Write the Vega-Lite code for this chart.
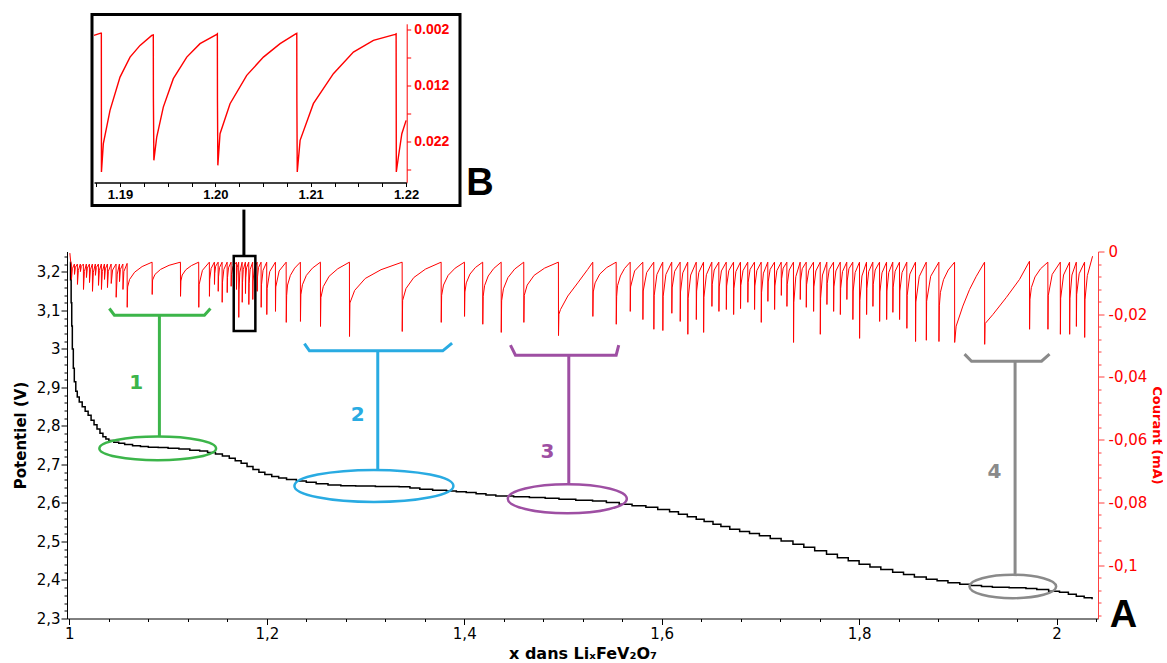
{
"$schema": "https://vega.github.io/schema/vega-lite/v6.json",
"padding": {"left": 13, "top": 12.5, "right": 0, "bottom": 0},
"background": "white",
"config": {
  "view": {"stroke": null},
  "font": "DejaVu Sans",
  "axis": {"grid": false, "labelFont": "DejaVu Sans", "titleFont": "DejaVu Sans", "labelOverlap": false, "labelFlush": false, "labelBound": false}
},
"datasets": {
  "potentiel": [
    {"x":1.0005,"y":3.225},{"x":1.0012,"y":3.18},{"x":1.0018,"y":3.12},{"x":1.0024,"y":3.06},{"x":1.003,"y":3.0},{"x":1.004,"y":2.95},{"x":1.005,"y":2.915},{"x":1.0065,"y":2.89},{"x":1.008,"y":2.875},{"x":1.01,"y":2.862},{"x":1.013,"y":2.85},{"x":1.016,"y":2.838},{"x":1.019,"y":2.828},{"x":1.022,"y":2.815},{"x":1.025,"y":2.803},{"x":1.028,"y":2.792},{"x":1.031,"y":2.781},{"x":1.034,"y":2.772},{"x":1.037,"y":2.766},{"x":1.04,"y":2.762},{"x":1.045,"y":2.758},{"x":1.05,"y":2.755},{"x":1.056,"y":2.752},{"x":1.064,"y":2.749},{"x":1.072,"y":2.747},{"x":1.08,"y":2.745},{"x":1.09,"y":2.744},{"x":1.1,"y":2.742},{"x":1.111,"y":2.74},{"x":1.122,"y":2.737},{"x":1.132,"y":2.735},{"x":1.14,"y":2.731},{"x":1.148,"y":2.727},{"x":1.155,"y":2.722},{"x":1.162,"y":2.716},{"x":1.168,"y":2.71},{"x":1.174,"y":2.703},{"x":1.18,"y":2.695},{"x":1.186,"y":2.687},{"x":1.192,"y":2.68},{"x":1.198,"y":2.674},{"x":1.205,"y":2.669},{"x":1.212,"y":2.665},{"x":1.22,"y":2.661},{"x":1.23,"y":2.657},{"x":1.24,"y":2.654},{"x":1.25,"y":2.65},{"x":1.262,"y":2.647},{"x":1.275,"y":2.645},{"x":1.29,"y":2.644},{"x":1.31,"y":2.643},{"x":1.334,"y":2.642},{"x":1.345,"y":2.639},{"x":1.355,"y":2.636},{"x":1.368,"y":2.633},{"x":1.382,"y":2.631},{"x":1.392,"y":2.629},{"x":1.402,"y":2.627},{"x":1.412,"y":2.624},{"x":1.422,"y":2.621},{"x":1.432,"y":2.618},{"x":1.45,"y":2.616},{"x":1.466,"y":2.614},{"x":1.482,"y":2.612},{"x":1.496,"y":2.61},{"x":1.513,"y":2.607},{"x":1.53,"y":2.605},{"x":1.544,"y":2.601},{"x":1.557,"y":2.597},{"x":1.57,"y":2.593},{"x":1.584,"y":2.589},{"x":1.596,"y":2.583},{"x":1.608,"y":2.577},{"x":1.617,"y":2.571},{"x":1.626,"y":2.564},{"x":1.635,"y":2.558},{"x":1.643,"y":2.552},{"x":1.652,"y":2.545},{"x":1.66,"y":2.539},{"x":1.669,"y":2.532},{"x":1.679,"y":2.526},{"x":1.689,"y":2.521},{"x":1.699,"y":2.515},{"x":1.71,"y":2.508},{"x":1.721,"y":2.501},{"x":1.733,"y":2.493},{"x":1.744,"y":2.485},{"x":1.755,"y":2.476},{"x":1.767,"y":2.467},{"x":1.778,"y":2.458},{"x":1.789,"y":2.45},{"x":1.8,"y":2.441},{"x":1.811,"y":2.434},{"x":1.822,"y":2.427},{"x":1.834,"y":2.42},{"x":1.845,"y":2.414},{"x":1.856,"y":2.408},{"x":1.868,"y":2.402},{"x":1.879,"y":2.398},{"x":1.89,"y":2.393},{"x":1.902,"y":2.389},{"x":1.913,"y":2.386},{"x":1.924,"y":2.383},{"x":1.935,"y":2.381},{"x":1.952,"y":2.38},{"x":1.969,"y":2.378},{"x":1.98,"y":2.375},{"x":1.992,"y":2.371},{"x":2.003,"y":2.368},{"x":2.012,"y":2.363},{"x":2.02,"y":2.358},{"x":2.028,"y":2.354},{"x":2.036,"y":2.35}
  ],
  "courant": [
    {"x":1.0005,"c":-0.0005},{"x":1.0013,"c":-0.0032},{"x":1.002,"c":-0.004},{"x":1.0021,"c":-0.0089},{"x":1.003,"c":-0.0055},{"x":1.0051,"c":-0.004},{"x":1.0052,"c":-0.0073},{"x":1.0061,"c":-0.005},{"x":1.0081,"c":-0.004},{"x":1.0082,"c":-0.0105},{"x":1.0091,"c":-0.006},{"x":1.0111,"c":-0.004},{"x":1.0112,"c":-0.0064},{"x":1.0121,"c":-0.0047},{"x":1.0142,"c":-0.004},{"x":1.0143,"c":-0.0121},{"x":1.0152,"c":-0.0064},{"x":1.0172,"c":-0.004},{"x":1.0173,"c":-0.0083},{"x":1.0182,"c":-0.0053},{"x":1.0203,"c":-0.004},{"x":1.0204,"c":-0.0099},{"x":1.0213,"c":-0.0058},{"x":1.0233,"c":-0.004},{"x":1.0234,"c":-0.0127},{"x":1.0243,"c":-0.0066},{"x":1.0263,"c":-0.004},{"x":1.0264,"c":-0.0076},{"x":1.0273,"c":-0.0051},{"x":1.0294,"c":-0.004},{"x":1.0295,"c":-0.0108},{"x":1.0304,"c":-0.006},{"x":1.0324,"c":-0.004},{"x":1.0325,"c":-0.0121},{"x":1.0334,"c":-0.0064},{"x":1.0355,"c":-0.004},{"x":1.0356,"c":-0.0089},{"x":1.0365,"c":-0.0055},{"x":1.0385,"c":-0.004},{"x":1.0386,"c":-0.0115},{"x":1.0395,"c":-0.0063},{"x":1.0423,"c":-0.004},{"x":1.0424,"c":-0.0102},{"x":1.0438,"c":-0.0059},{"x":1.0473,"c":-0.004},{"x":1.0474,"c":-0.0146},{"x":1.0485,"c":-0.0072},{"x":1.0507,"c":-0.004},{"x":1.0508,"c":-0.0096},{"x":1.0517,"c":-0.0057},{"x":1.0542,"c":-0.004},{"x":1.0543,"c":-0.0121},{"x":1.0552,"c":-0.0064},{"x":1.0585,"c":-0.0038},
    {"x":1.0586,"c":-0.0178},{"x":1.059,"c":-0.0113},{"x":1.061,"c":-0.0089},{"x":1.0661,"c":-0.0066},{"x":1.0737,"c":-0.0048},
    {"x":1.0838,"c":-0.0034},{"x":1.0839,"c":-0.0137},{"x":1.0843,"c":-0.0091},{"x":1.0867,"c":-0.0073},{"x":1.0924,"c":-0.0057},{"x":1.101,"c":-0.0044},
    {"x":1.1125,"c":-0.0034},{"x":1.1126,"c":-0.0143},{"x":1.113,"c":-0.0094},{"x":1.1143,"c":-0.0075},{"x":1.118,"c":-0.0058},{"x":1.1236,"c":-0.0045},
    {"x":1.131,"c":-0.0034},{"x":1.1311,"c":-0.0178},{"x":1.1314,"c":-0.0106},{"x":1.1348,"c":-0.006},
    {"x":1.1418,"c":-0.0034},{"x":1.1419,"c":-0.0143},{"x":1.1422,"c":-0.0089},{"x":1.1436,"c":-0.0054},
    {"x":1.1469,"c":-0.0034},{"x":1.147,"c":-0.0105},{"x":1.1473,"c":-0.007},{"x":1.1482,"c":-0.0047},
    {"x":1.1507,"c":-0.0034},{"x":1.1508,"c":-0.0127},{"x":1.1511,"c":-0.0081},{"x":1.1521,"c":-0.0051},
    {"x":1.1547,"c":-0.0034},{"x":1.1548,"c":-0.0162},{"x":1.1551,"c":-0.0098},{"x":1.1565,"c":-0.0057},
    {"x":1.1598,"c":-0.0034},{"x":1.1599,"c":-0.0131},{"x":1.1602,"c":-0.0083},{"x":1.1612,"c":-0.0052},
    {"x":1.1638,"c":-0.0034},{"x":1.1639,"c":-0.0111},{"x":1.1642,"c":-0.0073},{"x":1.1657,"c":-0.0048},
    {"x":1.1692,"c":-0.0034},{"x":1.1693,"c":-0.0121},{"x":1.1696,"c":-0.0078},{"x":1.17,"c":-0.005},
    {"x":1.1715,"c":-0.0034},{"x":1.1716,"c":-0.021},{"x":1.1719,"c":-0.0122},{"x":1.1727,"c":-0.0066},
    {"x":1.175,"c":-0.0034},{"x":1.1751,"c":-0.0162},{"x":1.1754,"c":-0.0098},{"x":1.1762,"c":-0.0057},
    {"x":1.1783,"c":-0.0034},{"x":1.1784,"c":-0.0134},{"x":1.1787,"c":-0.0084},{"x":1.1795,"c":-0.0052},
    {"x":1.1817,"c":-0.0034},{"x":1.1818,"c":-0.0169},{"x":1.1821,"c":-0.0102},{"x":1.1831,"c":-0.0058},
    {"x":1.1857,"c":-0.0034},{"x":1.1858,"c":-0.0153},{"x":1.1861,"c":-0.0094},{"x":1.1873,"c":-0.0055},
    {"x":1.1902,"c":-0.0034},{"x":1.1903,"c":-0.0127},{"x":1.1906,"c":-0.0081},{"x":1.1916,"c":-0.0051},
    {"x":1.1942,"c":-0.0034},{"x":1.1943,"c":-0.0178},{"x":1.1946,"c":-0.0106},{"x":1.1962,"c":-0.006},
    {"x":1.1999,"c":-0.0034},{"x":1.2,"c":-0.0201},{"x":1.2003,"c":-0.0118},{"x":1.203,"c":-0.0064},
    {"x":1.2087,"c":-0.0034},{"x":1.2088,"c":-0.0191},{"x":1.2091,"c":-0.0113},{"x":1.2125,"c":-0.0062},
    {"x":1.2196,"c":-0.0034},{"x":1.2197,"c":-0.0226},{"x":1.2201,"c":-0.014},{"x":1.221,"c":-0.0107},{"x":1.2239,"c":-0.0076},{"x":1.2282,"c":-0.0053},
    {"x":1.234,"c":-0.0034},{"x":1.2341,"c":-0.0223},{"x":1.2345,"c":-0.0138},{"x":1.2361,"c":-0.0106},{"x":1.2401,"c":-0.0076},{"x":1.2462,"c":-0.0053},
    {"x":1.2543,"c":-0.0034},{"x":1.2544,"c":-0.0239},{"x":1.2548,"c":-0.0147},{"x":1.2572,"c":-0.0112},{"x":1.2631,"c":-0.0079},{"x":1.2719,"c":-0.0055},
    {"x":1.2837,"c":-0.0034},{"x":1.2838,"c":-0.0271},{"x":1.2842,"c":-0.0164},{"x":1.289,"c":-0.0124},{"x":1.2997,"c":-0.0086},{"x":1.3157,"c":-0.0058},
    {"x":1.3371,"c":-0.0034},{"x":1.3372,"c":-0.0255},{"x":1.3376,"c":-0.0156},{"x":1.341,"c":-0.0118},{"x":1.3489,"c":-0.0083},{"x":1.3608,"c":-0.0056},
    {"x":1.3766,"c":-0.0034},{"x":1.3767,"c":-0.0226},{"x":1.3771,"c":-0.014},{"x":1.379,"c":-0.0107},{"x":1.3837,"c":-0.0076},{"x":1.3908,"c":-0.0053},
    {"x":1.4002,"c":-0.0034},{"x":1.4003,"c":-0.0207},{"x":1.4007,"c":-0.0129},{"x":1.4021,"c":-0.01},{"x":1.4058,"c":-0.0072},{"x":1.4113,"c":-0.0051},
    {"x":1.4187,"c":-0.0034},{"x":1.4188,"c":-0.0232},{"x":1.4192,"c":-0.0143},{"x":1.4206,"c":-0.0109},{"x":1.4243,"c":-0.0078},{"x":1.4299,"c":-0.0054},
    {"x":1.4374,"c":-0.0034},{"x":1.4375,"c":-0.0258},{"x":1.4379,"c":-0.0157},{"x":1.4397,"c":-0.0119},{"x":1.4443,"c":-0.0083},{"x":1.4511,"c":-0.0056},
    {"x":1.4603,"c":-0.0034},{"x":1.4604,"c":-0.0226},{"x":1.4608,"c":-0.014},{"x":1.4638,"c":-0.0107},{"x":1.4708,"c":-0.0076},{"x":1.4814,"c":-0.0053},
    {"x":1.4954,"c":-0.0034},{"x":1.4955,"c":-0.0268},{"x":1.4959,"c":-0.02},{"x":1.4975,"c":-0.0185},{"x":1.5049,"c":-0.0142},{"x":1.515,"c":-0.01},{"x":1.5251,"c":-0.0057},
    {"x":1.5302,"c":-0.0034},{"x":1.5303,"c":-0.0207},{"x":1.5307,"c":-0.0129},{"x":1.5326,"c":-0.01},{"x":1.5373,"c":-0.0072},{"x":1.5444,"c":-0.0051},
    {"x":1.5539,"c":-0.0034},{"x":1.554,"c":-0.0232},{"x":1.5544,"c":-0.0143},{"x":1.5553,"c":-0.0109},{"x":1.5582,"c":-0.0078},{"x":1.5624,"c":-0.0054},
    {"x":1.5681,"c":-0.0034},{"x":1.5682,"c":-0.0191},{"x":1.5685,"c":-0.0113},{"x":1.5726,"c":-0.0062},
    {"x":1.5809,"c":-0.0034},{"x":1.581,"c":-0.0217},{"x":1.5813,"c":-0.0126},{"x":1.5848,"c":-0.0067},
    {"x":1.592,"c":-0.0034},{"x":1.5921,"c":-0.0248},{"x":1.5924,"c":-0.0141},{"x":1.5952,"c":-0.0073},
    {"x":1.6011,"c":-0.0034},{"x":1.6012,"c":-0.0252},{"x":1.6015,"c":-0.0143},{"x":1.6043,"c":-0.0073},
    {"x":1.6102,"c":-0.0034},{"x":1.6103,"c":-0.0197},{"x":1.6106,"c":-0.0116},{"x":1.6132,"c":-0.0063},
    {"x":1.6187,"c":-0.0034},{"x":1.6188,"c":-0.0223},{"x":1.6191,"c":-0.0129},{"x":1.6214,"c":-0.0068},
    {"x":1.6264,"c":-0.0034},{"x":1.6265,"c":-0.0264},{"x":1.6268,"c":-0.0149},{"x":1.6294,"c":-0.0075},
    {"x":1.635,"c":-0.0034},{"x":1.6351,"c":-0.0217},{"x":1.6354,"c":-0.0126},{"x":1.6376,"c":-0.0067},
    {"x":1.6424,"c":-0.0034},{"x":1.6425,"c":-0.0258},{"x":1.6428,"c":-0.0146},{"x":1.6453,"c":-0.0074},
    {"x":1.6508,"c":-0.0034},{"x":1.6509,"c":-0.0175},{"x":1.6512,"c":-0.0105},{"x":1.6532,"c":-0.0059},
    {"x":1.6579,"c":-0.0034},{"x":1.658,"c":-0.0191},{"x":1.6583,"c":-0.0113},{"x":1.6605,"c":-0.0062},
    {"x":1.6654,"c":-0.0034},{"x":1.6655,"c":-0.0185},{"x":1.6658,"c":-0.011},{"x":1.668,"c":-0.0061},
    {"x":1.6728,"c":-0.0034},{"x":1.6729,"c":-0.0201},{"x":1.6732,"c":-0.0118},{"x":1.6752,"c":-0.0064},
    {"x":1.6798,"c":-0.0034},{"x":1.6799,"c":-0.0182},{"x":1.6802,"c":-0.0108},{"x":1.6824,"c":-0.0061},
    {"x":1.6872,"c":-0.0034},{"x":1.6873,"c":-0.0162},{"x":1.6876,"c":-0.0098},{"x":1.6896,"c":-0.0057},
    {"x":1.694,"c":-0.0034},{"x":1.6941,"c":-0.0185},{"x":1.6944,"c":-0.011},{"x":1.6964,"c":-0.0061},
    {"x":1.7008,"c":-0.0034},{"x":1.7009,"c":-0.0226},{"x":1.7012,"c":-0.013},{"x":1.7031,"c":-0.0069},
    {"x":1.7075,"c":-0.0034},{"x":1.7076,"c":-0.0159},{"x":1.7079,"c":-0.0097},{"x":1.7099,"c":-0.0057},
    {"x":1.7143,"c":-0.0034},{"x":1.7144,"c":-0.0185},{"x":1.7147,"c":-0.011},{"x":1.7167,"c":-0.0061},
    {"x":1.7211,"c":-0.0034},{"x":1.7212,"c":-0.014},{"x":1.7215,"c":-0.0087},{"x":1.7231,"c":-0.0053},
    {"x":1.7268,"c":-0.0034},{"x":1.7269,"c":-0.0175},{"x":1.7272,"c":-0.0105},{"x":1.7292,"c":-0.0059},
    {"x":1.7335,"c":-0.0034},{"x":1.7336,"c":-0.029},{"x":1.7339,"c":-0.0162},{"x":1.7359,"c":-0.008},
    {"x":1.7403,"c":-0.0034},{"x":1.7404,"c":-0.0153},{"x":1.7407,"c":-0.0094},{"x":1.7424,"c":-0.0055},
    {"x":1.7464,"c":-0.0034},{"x":1.7465,"c":-0.0178},{"x":1.7468,"c":-0.0106},{"x":1.749,"c":-0.006},
    {"x":1.7538,"c":-0.0034},{"x":1.7539,"c":-0.0191},{"x":1.7542,"c":-0.0113},{"x":1.7562,"c":-0.0062},
    {"x":1.7606,"c":-0.0034},{"x":1.7607,"c":-0.0264},{"x":1.761,"c":-0.0149},{"x":1.7629,"c":-0.0075},
    {"x":1.7673,"c":-0.0034},{"x":1.7674,"c":-0.0169},{"x":1.7677,"c":-0.0102},{"x":1.7697,"c":-0.0058},
    {"x":1.7741,"c":-0.0034},{"x":1.7742,"c":-0.0191},{"x":1.7745,"c":-0.0113},{"x":1.7765,"c":-0.0062},
    {"x":1.7809,"c":-0.0034},{"x":1.781,"c":-0.0201},{"x":1.7813,"c":-0.0118},{"x":1.7832,"c":-0.0064},
    {"x":1.7875,"c":-0.0034},{"x":1.7876,"c":-0.0153},{"x":1.7879,"c":-0.0094},{"x":1.7897,"c":-0.0055},
    {"x":1.7936,"c":-0.0034},{"x":1.7937,"c":-0.0217},{"x":1.794,"c":-0.0126},{"x":1.796,"c":-0.0067},
    {"x":1.8004,"c":-0.0034},{"x":1.8005,"c":-0.0277},{"x":1.8008,"c":-0.0156},{"x":1.8029,"c":-0.0078},
    {"x":1.8075,"c":-0.0034},{"x":1.8076,"c":-0.0201},{"x":1.8079,"c":-0.0118},{"x":1.8097,"c":-0.0064},
    {"x":1.8139,"c":-0.0034},{"x":1.814,"c":-0.0175},{"x":1.8143,"c":-0.0105},{"x":1.8163,"c":-0.0059},
    {"x":1.8207,"c":-0.0034},{"x":1.8208,"c":-0.0223},{"x":1.8211,"c":-0.0129},{"x":1.8232,"c":-0.0068},
    {"x":1.8278,"c":-0.0034},{"x":1.8279,"c":-0.0217},{"x":1.8282,"c":-0.0126},{"x":1.83,"c":-0.0067},
    {"x":1.8341,"c":-0.0034},{"x":1.8342,"c":-0.0194},{"x":1.8345,"c":-0.0114},{"x":1.8365,"c":-0.0063},
    {"x":1.8409,"c":-0.0034},{"x":1.841,"c":-0.0217},{"x":1.8413,"c":-0.0126},{"x":1.8435,"c":-0.0067},
    {"x":1.8483,"c":-0.0034},{"x":1.8484,"c":-0.0245},{"x":1.8487,"c":-0.014},{"x":1.8514,"c":-0.0072},
    {"x":1.8571,"c":-0.0034},{"x":1.8572,"c":-0.0287},{"x":1.8575,"c":-0.0161},{"x":1.8609,"c":-0.008},
    {"x":1.868,"c":-0.0034},{"x":1.8681,"c":-0.0283},{"x":1.8684,"c":-0.0159},{"x":1.8725,"c":-0.0079},
    {"x":1.8808,"c":-0.0034},{"x":1.8809,"c":-0.0287},{"x":1.8813,"c":-0.0173},{"x":1.8824,"c":-0.013},{"x":1.8855,"c":-0.009},{"x":1.8903,"c":-0.0059},
    {"x":1.8967,"c":-0.0034},{"x":1.8968,"c":-0.029},{"x":1.8983,"c":-0.0238},{"x":1.9051,"c":-0.0174},{"x":1.9119,"c":-0.0121},{"x":1.9187,"c":-0.0079},
    {"x":1.9271,"c":-0.0034},{"x":1.9272,"c":-0.0296},{"x":1.9276,"c":-0.023},{"x":1.9355,"c":-0.0201},{"x":1.949,"c":-0.0147},{"x":1.9625,"c":-0.0089},
    {"x":1.9726,"c":-0.0031},{"x":1.9727,"c":-0.0248},{"x":1.9731,"c":-0.0152},{"x":1.9745,"c":-0.0115},{"x":1.9782,"c":-0.0081},{"x":1.9838,"c":-0.0055},
    {"x":1.9912,"c":-0.0034},{"x":1.9913,"c":-0.0248},{"x":1.9916,"c":-0.0141},{"x":1.9956,"c":-0.0073},
    {"x":2.0038,"c":-0.0034},{"x":2.0039,"c":-0.0264},{"x":2.0042,"c":-0.0149},{"x":2.0071,"c":-0.0075},
    {"x":2.0132,"c":-0.0034},{"x":2.0133,"c":-0.0264},{"x":2.0136,"c":-0.0149},{"x":2.0156,"c":-0.0075},
    {"x":2.02,"c":-0.0034},{"x":2.0201,"c":-0.0239},{"x":2.0204,"c":-0.0137},{"x":2.0229,"c":-0.0071},
    {"x":2.0284,"c":-0.0034},{"x":2.0285,"c":-0.0274},{"x":2.0288,"c":-0.0154},{"x":2.0312,"c":-0.0077},
    {"x":2.0365,"c":-0.0015}
  ],
  "inset": [
    {"x":1.18727,"c":0.00307},{"x":1.18797,"c":0.00266},{"x":1.18804,"c":0.00266},{"x":1.18805,"c":0.02748},{"x":1.18825,"c":0.02241},{"x":1.18895,"c":0.01646},{"x":1.19,"c":0.01052},{"x":1.19105,"c":0.00695},{"x":1.1921,"c":0.00486},{"x":1.19333,"c":0.00307},
    {"x":1.19349,"c":0.00298},{"x":1.1935,"c":0.0142},{"x":1.19355,"c":0.02539},{"x":1.19385,"c":0.02123},{"x":1.19454,"c":0.01588},{"x":1.19559,"c":0.0108},{"x":1.197,"c":0.00695},{"x":1.19839,"c":0.00455},{"x":1.20015,"c":0.00289},
    {"x":1.20021,"c":0.0028},{"x":1.20022,"c":0.01468},{"x":1.20026,"c":0.02629},{"x":1.20049,"c":0.02063},{"x":1.20154,"c":0.01527},{"x":1.20329,"c":0.01021},{"x":1.20504,"c":0.00695},{"x":1.20679,"c":0.00455},{"x":1.20847,"c":0.00277},
    {"x":1.20854,"c":0.00271},{"x":1.20855,"c":0.01468},{"x":1.20859,"c":0.02748},{"x":1.20889,"c":0.02182},{"x":1.21028,"c":0.01527},{"x":1.21238,"c":0.00991},{"x":1.21448,"c":0.00605},{"x":1.21658,"c":0.00396},{"x":1.21886,"c":0.00289},
    {"x":1.21896,"c":0.0028},{"x":1.21898,"c":0.02748},{"x":1.2192,"c":0.0248},{"x":1.21956,"c":0.02063},{"x":1.22001,"c":0.01825}
  ],
  "brackets": [
    {"g":"1","k":1,"x":1.0405,"y":3.1052},{"g":"1","k":2,"x":1.0456,"y":3.0878},{"g":"1","k":3,"x":1.1368,"y":3.0878},{"g":"1","k":4,"x":1.1429,"y":3.1052},
    {"g":"2","k":1,"x":1.2381,"y":3.0138},{"g":"2","k":2,"x":1.2432,"y":2.9951},{"g":"2","k":3,"x":1.3782,"y":2.9951},{"g":"2","k":4,"x":1.3877,"y":3.0151},
    {"g":"3","k":1,"x":1.4468,"y":3.0099},{"g":"3","k":2,"x":1.4519,"y":2.9839},{"g":"3","k":3,"x":1.5539,"y":2.9839},{"g":"3","k":4,"x":1.5565,"y":3.0099},
    {"g":"4","k":1,"x":1.9068,"y":2.9865},{"g":"4","k":2,"x":1.9139,"y":2.9683},{"g":"4","k":3,"x":1.9848,"y":2.9683},{"g":"4","k":4,"x":1.9929,"y":2.9865}
  ],
  "stems": [
    {"g":"1","x":1.0912,"y":3.0878,"y2":2.7727},{"g":"2","x":1.3124,"y":2.9951,"y2":2.686},{"g":"3","x":1.5059,"y":2.9839,"y2":2.6488},{"g":"4","x":1.958,"y":2.9683,"y2":2.4132}
  ],
  "ellipses": [
    {"g":"1","x":1.0895,"y":2.7418},{"g":"2","x":1.3085,"y":2.6444},{"g":"3","x":1.5044,"y":2.6112},{"g":"4","x":1.9557,"y":2.3831}
  ],
  "numbers": [
    {"g":"1","x":1.0676,"y":2.9112,"t":"1"},{"g":"2","x":1.2921,"y":2.8281,"t":"2"},{"g":"3","x":1.4843,"y":2.7332,"t":"3"},{"g":"4","x":1.9372,"y":2.6808,"t":"4"}
  ]
},
"spacing": 0,
"vconcat": [
  {
    "spacing": 0,
    "hconcat": [
      {"width": 21.5, "height": 10, "data": {"values": []}, "mark": "text"},
      {
        "width": 368, "height": 191,
        "view": {"stroke": "black", "strokeWidth": 3},
        "resolve": {"scale": {"x": "independent", "y": "independent"}},
        "layer": [
          {
            "data": {"name": "inset"},
            "mark": {"type": "line", "color": "#ff0000", "strokeWidth": 1.4},
            "encoding": {
              "x": {"field": "x", "type": "quantitative",
                "scale": {"domain": [1.18727, 1.22007], "range": [2, 314.7], "nice": false, "zero": false},
                "axis": {"title": null, "offset": -23, "labelOverlap": false, "values": [1.1875,1.19,1.1925,1.195,1.1975,1.2,1.2025,1.205,1.2075,1.21,1.2125,1.215,1.2175,1.22],
                  "labelExpr": "abs(datum.value*100 - round(datum.value*100)) < 0.001 ? format(datum.value, '.2f') : ''",
                  "tickSize": 4, "tickColor": "black", "domainColor": "black", "domainWidth": 1.5, "labelColor": "black", "labelFont": "Liberation Sans", "labelFontSize": 13, "labelFontWeight": "bold", "labelPadding": 2}},
              "y": {"field": "c", "type": "quantitative",
                "scale": {"domain": [0.001, 0.0293], "range": [9.3, 167.7], "nice": false, "zero": false},
                "axis": {"title": null, "orient": "right", "offset": -53.3, "labelOverlap": false, "values": [0.002,0.007,0.012,0.017,0.022,0.027],
                  "labelExpr": "abs((datum.value-0.002)*100 - round((datum.value-0.002)*100)) < 0.001 ? format(datum.value, '.3f') : ''",
                  "tickSize": 4, "tickColor": "#ff0000", "domainColor": "#ff0000", "labelColor": "#ff0000", "labelFont": "Liberation Sans", "labelFontSize": 14, "labelFontWeight": "bold", "labelPadding": 3}}
            }
          },
          {
            "data": {"values": [{"x": 1.22776, "c": 0.02962, "t": "B"}]},
            "mark": {"type": "text", "fontSize": 38, "fontWeight": "bold", "font": "Liberation Sans", "align": "center", "baseline": "middle", "color": "black"},
            "encoding": {
              "x": {"field": "x", "type": "quantitative", "scale": {"domain": [1.18727, 1.22007], "range": [2, 314.7], "nice": false, "zero": false}, "axis": null},
              "y": {"field": "c", "type": "quantitative", "scale": {"domain": [0.001, 0.0293], "range": [9.3, 167.7], "nice": false, "zero": false}, "axis": null},
              "text": {"field": "t"}
            }
          }
        ]
      }
    ]
  },
  {
    "width": 1031, "height": 367,
    "resolve": {"scale": {"x": "independent", "y": "independent", "color": "independent"}},
    "layer": [
      {
        "data": {"name": "potentiel"},
        "mark": {"type": "line", "interpolate": "step-after", "color": "black", "strokeWidth": 1.5},
        "encoding": {
          "x": {"field": "x", "type": "quantitative", "scale": {"domain": [0.9976, 2.042], "nice": false, "zero": false},
            "axis": {"title": "x dans LiₓFeV₂O₇", "labelOverlap": false, "values": [1,1.04,1.08,1.12,1.16,1.2,1.24,1.28,1.32,1.36,1.4,1.44,1.48,1.52,1.56,1.6,1.64,1.68,1.72,1.76,1.8,1.84,1.88,1.92,1.96,2,2.04],
              "labelExpr": "abs(datum.value*5 - round(datum.value*5)) < 0.001 ? replace(format(datum.value, '~g'), '.', ',') : ''",
              "tickSize": {"condition": {"test": "abs(datum.value*5 - round(datum.value*5)) < 0.001", "value": 6}, "value": 3},
              "tickColor": "black", "domainColor": "black", "labelColor": "black", "labelFontSize": 15, "labelPadding": 2,
              "titleFontSize": 16, "titleFontWeight": "bold", "titleColor": "black", "titlePadding": 4}},
          "y": {"field": "y", "type": "quantitative", "scale": {"domain": [2.3, 3.2532], "nice": false, "zero": false},
            "axis": {"title": "Potentiel (V)", "labelOverlap": false, "values": [2.3,2.32,2.34,2.36,2.38,2.4,2.42,2.44,2.46,2.48,2.5,2.52,2.54,2.56,2.58,2.6,2.62,2.64,2.66,2.68,2.7,2.72,2.74,2.76,2.78,2.8,2.82,2.84,2.86,2.88,2.9,2.92,2.94,2.96,2.98,3,3.02,3.04,3.06,3.08,3.1,3.12,3.14,3.16,3.18,3.2,3.22,3.24],
              "labelExpr": "abs(datum.value*10 - round(datum.value*10)) < 0.001 ? replace(format(datum.value, '~g'), '.', ',') : ''",
              "tickSize": {"condition": {"test": "abs(datum.value*10 - round(datum.value*10)) < 0.001", "value": 6}, "value": 3},
              "tickColor": "black", "domainColor": "black", "labelColor": "black", "labelFontSize": 15, "labelPadding": 1,
              "titleFontSize": 15, "titleFontWeight": "bold", "titleColor": "black", "titlePadding": 8}}
        }
      },
      {
        "data": {"name": "courant"},
        "mark": {"type": "line", "color": "#ff0000", "strokeWidth": 1},
        "encoding": {
          "x": {"field": "x", "type": "quantitative", "scale": {"domain": [0.9976, 2.042], "nice": false, "zero": false}, "axis": null},
          "y": {"field": "c", "type": "quantitative", "scale": {"domain": [-0.117, 0], "nice": false, "zero": false},
            "axis": {"title": "Courant (mA)", "orient": "right", "labelOverlap": false, "values": [0,-0.004,-0.008,-0.012,-0.016,-0.02,-0.024,-0.028,-0.032,-0.036,-0.04,-0.044,-0.048,-0.052,-0.056,-0.06,-0.064,-0.068,-0.072,-0.076,-0.08,-0.084,-0.088,-0.092,-0.096,-0.1,-0.104,-0.108,-0.112,-0.116],
              "labelExpr": "abs(datum.value*50 - round(datum.value*50)) < 0.001 ? (datum.value < 0 ? '-' : '') + replace(format(abs(datum.value), '~g'), '.', ',') : ''",
              "tickSize": {"condition": {"test": "abs(datum.value*50 - round(datum.value*50)) < 0.001", "value": 6}, "value": 3},
              "tickColor": "#ff4040", "domainColor": "#ff4040", "labelColor": "#ff0000", "labelFontSize": 15, "labelPadding": 4,
              "titleFontSize": 13, "titleFontWeight": "bold", "titleColor": "#ff0000", "titlePadding": 3}}
        }
      },
      {
        "data": {"name": "brackets"},
        "mark": {"type": "line", "strokeWidth": 3},
        "encoding": {
          "x": {"field": "x", "type": "quantitative", "scale": {"domain": [0.9976, 2.042], "nice": false, "zero": false}, "axis": null},
          "y": {"field": "y", "type": "quantitative", "scale": {"domain": [2.3, 3.2532], "nice": false, "zero": false}, "axis": null},
          "color": {"field": "g", "type": "nominal", "scale": {"domain": ["1","2","3","4"], "range": ["#3cb54a","#29abe2","#9e4fa3","#8a8a8a"]}, "legend": null},
          "order": {"field": "k", "type": "quantitative"}
        }
      },
      {
        "data": {"name": "stems"},
        "mark": {"type": "rule", "strokeWidth": 3},
        "encoding": {
          "x": {"field": "x", "type": "quantitative", "scale": {"domain": [0.9976, 2.042], "nice": false, "zero": false}, "axis": null},
          "y": {"field": "y", "type": "quantitative", "scale": {"domain": [2.3, 3.2532], "nice": false, "zero": false}, "axis": null},
          "y2": {"field": "y2"},
          "color": {"field": "g", "type": "nominal", "scale": {"domain": ["1","2","3","4"], "range": ["#3cb54a","#29abe2","#9e4fa3","#8a8a8a"]}, "legend": null}
        }
      },
      {
        "data": {"name": "ellipses"},
        "transform": [{"filter": "datum.g == '1'"}],
        "mark": {"type": "point", "filled": false, "opacity": 1, "strokeWidth": 2.5, "stroke": "#3cb54a", "size": 13619,
          "shape": "M-1 0C-1 -0.1121 -0.5523 -0.203 0 -0.203C0.5523 -0.203 1 -0.1121 1 0C1 0.1121 0.5523 0.203 0 0.203C-0.5523 0.203 -1 0.1121 -1 0Z"},
        "encoding": {
          "x": {"field": "x", "type": "quantitative", "scale": {"domain": [0.9976, 2.042], "nice": false, "zero": false}, "axis": null},
          "y": {"field": "y", "type": "quantitative", "scale": {"domain": [2.3, 3.2532], "nice": false, "zero": false}, "axis": null}
        }
      },
      {
        "data": {"name": "ellipses"},
        "transform": [{"filter": "datum.g == '2'"}],
        "mark": {"type": "point", "filled": false, "opacity": 1, "strokeWidth": 2.5, "stroke": "#29abe2", "size": 25281,
          "shape": "M-1 0C-1 -0.111 -0.5523 -0.201 0 -0.201C0.5523 -0.201 1 -0.111 1 0C1 0.111 0.5523 0.201 0 0.201C-0.5523 0.201 -1 0.111 -1 0Z"},
        "encoding": {
          "x": {"field": "x", "type": "quantitative", "scale": {"domain": [0.9976, 2.042], "nice": false, "zero": false}, "axis": null},
          "y": {"field": "y", "type": "quantitative", "scale": {"domain": [2.3, 3.2532], "nice": false, "zero": false}, "axis": null}
        }
      },
      {
        "data": {"name": "ellipses"},
        "transform": [{"filter": "datum.g == '3'"}],
        "mark": {"type": "point", "filled": false, "opacity": 1, "strokeWidth": 2.5, "stroke": "#9e4fa3", "size": 14161,
          "shape": "M-1 0C-1 -0.1348 -0.5523 -0.244 0 -0.244C0.5523 -0.244 1 -0.1348 1 0C1 0.1348 0.5523 0.244 0 0.244C-0.5523 0.244 -1 0.1348 -1 0Z"},
        "encoding": {
          "x": {"field": "x", "type": "quantitative", "scale": {"domain": [0.9976, 2.042], "nice": false, "zero": false}, "axis": null},
          "y": {"field": "y", "type": "quantitative", "scale": {"domain": [2.3, 3.2532], "nice": false, "zero": false}, "axis": null}
        }
      },
      {
        "data": {"name": "ellipses"},
        "transform": [{"filter": "datum.g == '4'"}],
        "mark": {"type": "point", "filled": false, "opacity": 1, "strokeWidth": 2.5, "stroke": "#8a8a8a", "size": 7517,
          "shape": "M-1 0C-1 -0.1486 -0.5523 -0.269 0 -0.269C0.5523 -0.269 1 -0.1486 1 0C1 0.1486 0.5523 0.269 0 0.269C-0.5523 0.269 -1 0.1486 -1 0Z"},
        "encoding": {
          "x": {"field": "x", "type": "quantitative", "scale": {"domain": [0.9976, 2.042], "nice": false, "zero": false}, "axis": null},
          "y": {"field": "y", "type": "quantitative", "scale": {"domain": [2.3, 3.2532], "nice": false, "zero": false}, "axis": null}
        }
      },
      {
        "data": {"name": "numbers"},
        "mark": {"type": "text", "fontSize": 20, "fontWeight": "bold", "font": "DejaVu Sans", "align": "center", "baseline": "middle"},
        "encoding": {
          "x": {"field": "x", "type": "quantitative", "scale": {"domain": [0.9976, 2.042], "nice": false, "zero": false}, "axis": null},
          "y": {"field": "y", "type": "quantitative", "scale": {"domain": [2.3, 3.2532], "nice": false, "zero": false}, "axis": null},
          "text": {"field": "t"},
          "color": {"field": "g", "type": "nominal", "scale": {"domain": ["1","2","3","4"], "range": ["#3cb54a","#29abe2","#9e4fa3","#8a8a8a"]}, "legend": null}
        }
      },
      {
        "data": {"values": [{"x": 1.1665, "x2": 1.1884, "y": 3.2418, "y2": 3.047}]},
        "mark": {"type": "rect", "fill": "transparent", "stroke": "black", "strokeWidth": 2.5},
        "encoding": {
          "x": {"field": "x", "type": "quantitative", "scale": {"domain": [0.9976, 2.042], "nice": false, "zero": false}, "axis": null},
          "x2": {"field": "x2"},
          "y": {"field": "y", "type": "quantitative", "scale": {"domain": [2.3, 3.2532], "nice": false, "zero": false}, "axis": null},
          "y2": {"field": "y2"}
        }
      },
      {
        "data": {"values": [{"x": 1.1768, "y": 3.2418, "y2": 3.362}]},
        "mark": {"type": "rule", "color": "black", "strokeWidth": 3},
        "encoding": {
          "x": {"field": "x", "type": "quantitative", "scale": {"domain": [0.9976, 2.042], "nice": false, "zero": false}, "axis": null},
          "y": {"field": "y", "type": "quantitative", "scale": {"domain": [2.3, 3.2532], "nice": false, "zero": false}, "axis": null},
          "y2": {"field": "y2"}
        }
      },
      {
        "data": {"values": [{"x": 2.0679, "y": 2.3073, "t": "A"}]},
        "mark": {"type": "text", "fontSize": 38, "fontWeight": "bold", "font": "Liberation Sans", "align": "center", "baseline": "middle", "color": "black"},
        "encoding": {
          "x": {"field": "x", "type": "quantitative", "scale": {"domain": [0.9976, 2.042], "nice": false, "zero": false}, "axis": null},
          "y": {"field": "y", "type": "quantitative", "scale": {"domain": [2.3, 3.2532], "nice": false, "zero": false}, "axis": null},
          "text": {"field": "t"}
        }
      }
    ]
  }
]
}
